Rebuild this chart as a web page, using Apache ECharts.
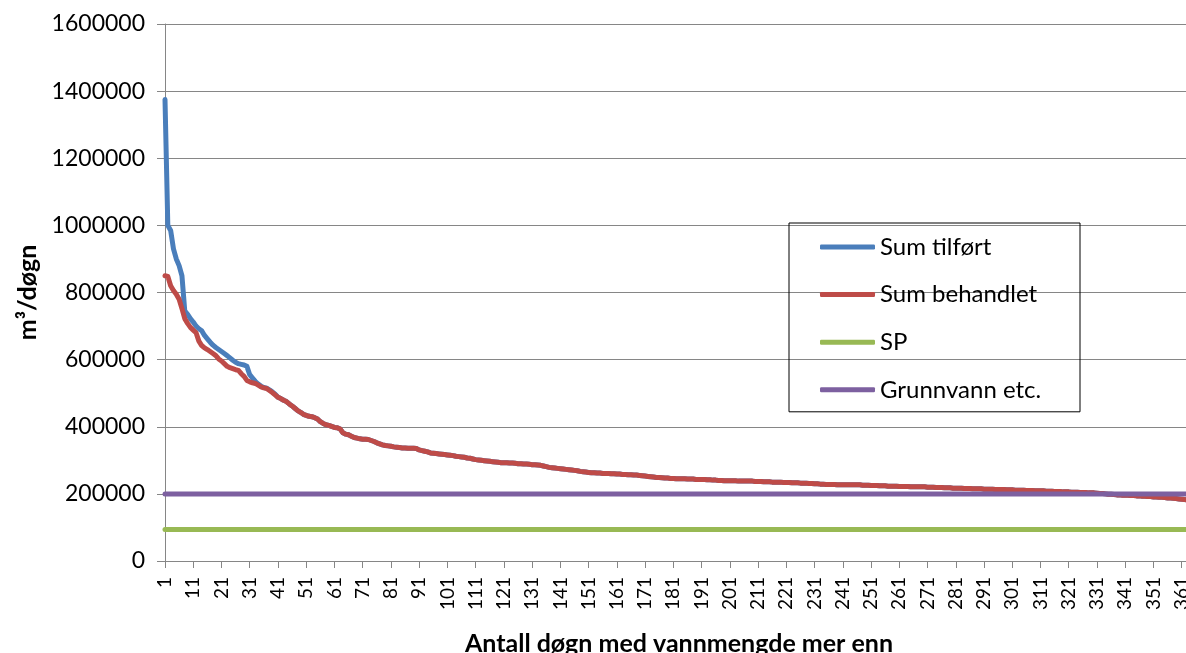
<!DOCTYPE html>
<html>
<head>
<meta charset="utf-8">
<script src="https://cdn.jsdelivr.net/npm/echarts@6/dist/echarts.min.js"></script>
<style>
  html, body { margin: 0; padding: 0; background: #ffffff; }
  #chart { width: 1186px; height: 653px; }
</style>
</head>
<body>
<div id="chart"></div>
<script>
// Days 1..365, sorted by daily water volume (duration curve)
const days = [];
for (let d = 1; d <= 365; d++) days.push(String(d));

const seriesNames = ['Sum tilført', 'Sum behandlet', 'SP', 'Grunnvann etc.'];

// Sum behandlet, m3/døgn, day 1..365
const sumBehandlet = [
  850000,848000,820000,806000,795000,780000,752000,722000,708000,696000,
  688000,680000,655000,642000,635000,630000,624000,618000,612000,602000,
  596000,588000,580000,576000,573000,570000,568000,558000,550000,538000,
  534000,531000,529000,524000,519000,516000,514000,508000,502000,495000,
  488000,484000,479000,475000,468000,462000,455000,448000,443000,437000,
  434000,431000,430000,427000,423000,415000,410000,406000,404000,401000,
  398000,397000,393000,382000,378000,376000,372000,368000,366000,364000,
  363000,363000,362000,359000,356000,352000,349000,346000,344000,343000,
  342000,340000,339000,338000,337000,337000,336000,336000,336000,335000,
  331000,329000,327000,325000,322000,321000,320000,319000,318000,317000,
  316000,315000,314000,312000,311000,310000,309000,307000,306000,304000,
  302000,301000,300000,299000,298000,297000,296000,295000,294000,293000,
  293000,293000,292000,292000,291000,290000,290000,289000,289000,288000,
  287000,287000,286000,285000,283000,281000,279000,278000,277000,276000,
  275000,274000,273000,272000,271000,270000,269000,267000,266000,265000,
  264000,263000,263000,262000,262000,261000,261000,261000,260000,260000,
  259000,259000,258000,258000,257000,257000,256000,256000,255000,254000,
  253000,252000,251000,250000,249000,249000,248000,247000,247000,246000,
  246000,245000,245000,245000,245000,244000,244000,244000,243000,243000,
  243000,243000,242000,242000,241000,241000,240000,240000,239000,239000,
  239000,239000,239000,238000,238000,238000,238000,238000,238000,237000,
  237000,237000,236000,236000,236000,235000,235000,235000,235000,234000,
  234000,234000,233000,233000,233000,232000,232000,232000,231000,231000,
  230000,230000,229000,229000,228000,228000,228000,228000,227000,227000,
  227000,227000,227000,227000,227000,227000,227000,226000,226000,226000,
  225000,225000,225000,224000,224000,224000,223000,223000,223000,223000,
  222000,222000,222000,222000,221000,221000,221000,221000,221000,221000,
  220000,220000,220000,219000,219000,219000,218000,218000,218000,217000,
  217000,217000,217000,216000,216000,216000,215000,215000,215000,215000,
  214000,214000,214000,214000,213000,213000,213000,213000,212000,212000,
  212000,211000,211000,211000,211000,210000,210000,210000,209000,209000,
  209000,209000,208000,208000,208000,207000,207000,207000,206000,206000,
  206000,205000,205000,205000,204000,204000,204000,203000,203000,203000,
  202000,201000,201000,200000,199000,199000,198000,197000,197000,196000,
  196000,196000,195000,195000,194000,194000,193000,193000,192000,192000,
  191000,191000,190000,190000,189000,188000,188000,187000,186000,185000,
  184000,183000,182000,180000,177000
];

// Sum tilført, first 40 days; from day 41 it coincides with Sum behandlet
const sumTilfortHead = [
  1375000,1000000,985000,930000,900000,880000,850000,745000,735000,722000,
  712000,700000,692000,686000,672000,662000,652000,643000,636000,630000,
  624000,618000,612000,605000,598000,592000,588000,586000,584000,580000,
  555000,545000,535000,527000,521000,517000,515000,510000,504000,497000
];
const sumTilfort = sumTilfortHead.concat(sumBehandlet.slice(sumTilfortHead.length));

// Constant capacities
const spLevel = 94000;
const grunnvannLevel = 200000;
const sp = days.map(() => spLevel);
const grunnvann = days.map(() => grunnvannLevel);

const colors = ['#4A7EBB', '#BE4B48', '#98B954', '#7D60A0'];
const values = [sumTilfort, sumBehandlet, sp, grunnvann];

const chart = echarts.init(document.getElementById('chart'), null, { renderer: 'canvas' });

const FONT = 'Lato, "Open Sans", sans-serif';

chart.setOption({
  animation: false,
  backgroundColor: '#ffffff',
  color: colors,
  grid: { left: 165, top: 24, right: -7, bottom: 92, containLabel: false, outerBoundsMode: 'none' },
  legend: {
    orient: 'vertical',
    left: 789,
    top: 223,
    padding: [12, 20, 10, 31],
    itemGap: 23.6,
    itemWidth: 55,
    itemHeight: 5,
    icon: 'roundRect',
    borderColor: '#000000',
    borderWidth: 1,
    textStyle: { fontFamily: FONT, fontSize: 24, color: '#000000', width: 180, lineHeight: 24 },
    data: seriesNames
  },
  xAxis: {
    type: 'category',
    data: days,
    boundaryGap: false,
    name: 'Antall døgn med vannmengde mer enn',
    nameLocation: 'middle',
    nameGap: 70,
    nameTextStyle: { fontFamily: FONT, fontSize: 25, fontWeight: 'bold', color: '#000000' },
    axisLine: { show: true, lineStyle: { color: '#868686', width: 1 } },
    axisTick: { show: true, interval: 9, length: 7, lineStyle: { color: '#868686' } },
    axisLabel: {
      interval: 9, rotate: 90, margin: 16,
      fontFamily: FONT, fontSize: 19, color: '#000000'
    },
    splitLine: { show: false }
  },
  yAxis: {
    type: 'value',
    min: 0,
    max: 1600000,
    interval: 200000,
    name: 'm³/døgn',
    nameLocation: 'middle',
    nameGap: 112,
    nameTextStyle: { fontFamily: FONT, fontSize: 25, fontWeight: 'bold', color: '#000000' },
    axisLine: { show: true, lineStyle: { color: '#868686', width: 1 } },
    axisTick: { show: true, length: 8, lineStyle: { color: '#868686' } },
    axisLabel: {
      margin: 20, fontFamily: FONT, fontSize: 23, color: '#000000',
      formatter: (v) => String(v)
    },
    splitLine: { show: true, lineStyle: { color: '#868686', width: 1 } }
  },
  series: seriesNames.map((name, i) => ({
    name: name,
    type: 'line',
    data: values[i],
    symbol: 'none',
    showSymbol: false,
    lineStyle: { width: 5, color: colors[i], cap: 'round', join: 'round' },
    itemStyle: { color: colors[i] },
    emphasis: { disabled: true }
  }))
});
</script>
</body>
</html>
